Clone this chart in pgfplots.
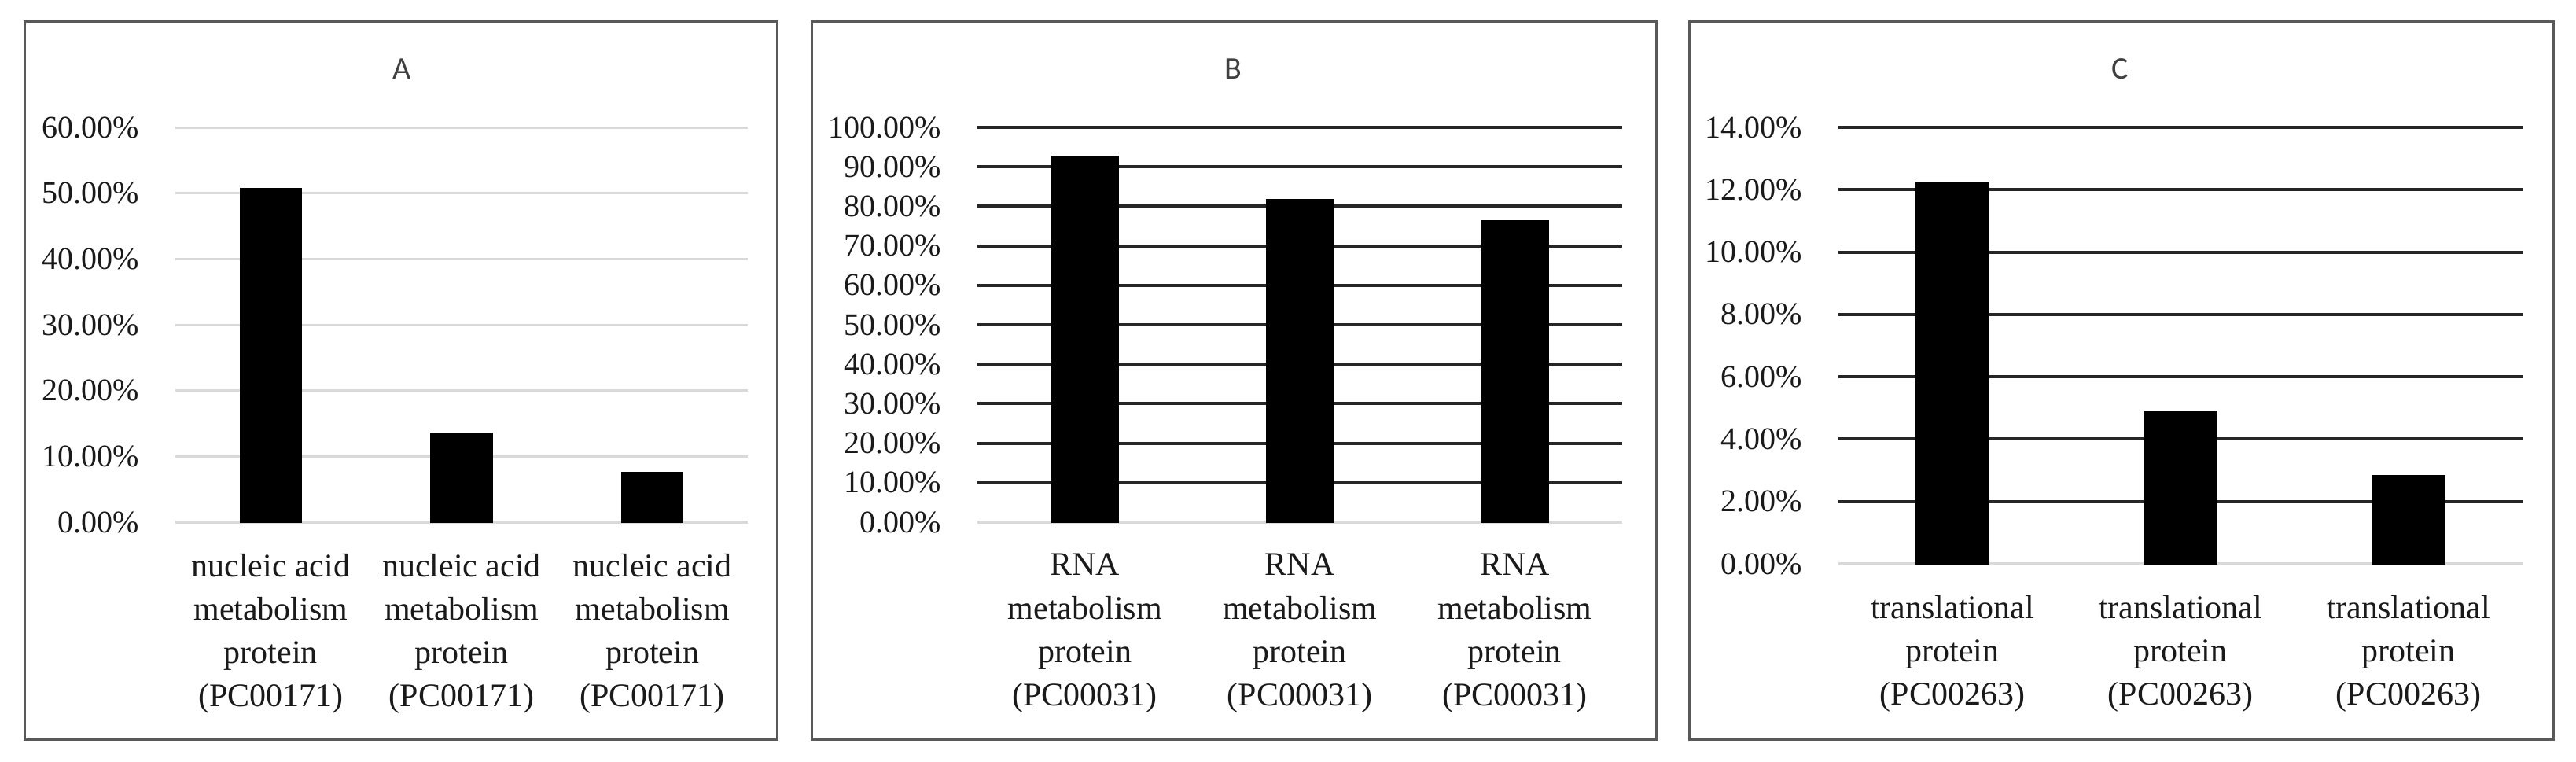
\documentclass[border=0pt]{standalone}
\usepackage{fontspec}
\setmainfont{Liberation Serif}
\newfontfamily\titlefont{Carlito}
\usepackage{pgfplots}
\pgfplotsset{compat=1.18}
\definecolor{bordergray}{HTML}{595959}
\definecolor{lightgrid}{HTML}{D9D9D9}
\definecolor{darkgrid}{HTML}{262626}
\definecolor{titlegray}{HTML}{404040}
\definecolor{ticktext}{HTML}{1A1A1A}

\pgfplotsset{
  panel/.style={
    scale only axis,
    anchor=south west,
    xmin=-0.5, xmax=2.5,
    enlarge x limits=false,
    enlarge y limits=false,
    ymin=0,
    xtick={0,1,2},
    major tick length=0pt,
    axis x line=bottom,
    axis y line=left,
    x axis line style={-, draw=lightgrid, line width=0.9pt},
    y axis line style={draw=none},
    ymajorgrids,
    yticklabel style={font=\fontsize{10}{12}\selectfont, text=ticktext, xshift=-8pt},
    xticklabel style={font=\fontsize{10.5}{13.8}\selectfont, text=ticktext, align=center, yshift=-6.5pt},
    bar width=0.32,
    extra y ticks={0},
    extra y tick style={grid=none},
  },
  barstyle/.style={ybar, fill=black, draw=black},
}

\pgfplotstableread{
x y
0 50.7
1 13.5
2 7.6
}\dataA
\pgfplotstableread{
x y
0 92.6
1 81.8
2 76.3
}\dataB
\pgfplotstableread{
x y
0 12.24
1 4.88
2 2.83
}\dataC

\begin{document}
\begin{tikzpicture}
\useasboundingbox (0,0) rectangle (819pt,242pt);
% panel borders
\draw[bordergray, line width=0.75pt] (7.75pt,7pt) rectangle (247pt,235.25pt);
\draw[bordergray, line width=0.75pt] (258pt,7pt) rectangle (526.5pt,235.25pt);
\draw[bordergray, line width=0.75pt] (537pt,7pt) rectangle (811.75pt,235.25pt);
% titles
\node[titlegray, font=\titlefont\fontsize{10}{12}\selectfont] at (127.75pt,220pt) {A};
\node[titlegray, font=\titlefont\fontsize{10}{12}\selectfont] at (392pt,220pt) {B};
\node[titlegray, font=\titlefont\fontsize{10}{12}\selectfont] at (674pt,220pt) {C};

% Panel A
\begin{axis}[panel,
  at={(55.75pt,76pt)}, width=182pt, height=125.5pt,
  ymax=60,
  ytick={10,20,30,40,50,60},
  yticklabels={10.00\%,20.00\%,30.00\%,40.00\%,50.00\%,60.00\%},
  extra y tick labels={0.00\%},
  grid style={lightgrid, line width=0.75pt},
  xticklabels={{nucleic acid\\metabolism\\protein\\(PC00171)},{nucleic acid\\metabolism\\protein\\(PC00171)},{nucleic acid\\metabolism\\protein\\(PC00171)}},
]
\addplot[barstyle] table[x=x,y=y] {\dataA};
\end{axis}

% Panel B
\begin{axis}[panel,
  at={(310.75pt,76pt)}, width=205pt, height=125.5pt,
  ymax=100,
  ytick={10,20,30,40,50,60,70,80,90,100},
  yticklabels={10.00\%,20.00\%,30.00\%,40.00\%,50.00\%,60.00\%,70.00\%,80.00\%,90.00\%,100.00\%},
  extra y tick labels={0.00\%},
  grid style={darkgrid, line width=1pt},
  bar width=0.31,
  xticklabels={{RNA\\metabolism\\protein\\(PC00031)},{RNA\\metabolism\\protein\\(PC00031)},{RNA\\metabolism\\protein\\(PC00031)}},
]
\addplot[barstyle] table[x=x,y=y] {\dataB};
\end{axis}

% Panel C
\begin{axis}[panel,
  at={(584.5pt,62.75pt)}, width=217.5pt, height=138.75pt,
  ymax=14,
  ytick={2,4,6,8,10,12,14},
  yticklabels={2.00\%,4.00\%,6.00\%,8.00\%,10.00\%,12.00\%,14.00\%},
  extra y tick labels={0.00\%},
  grid style={darkgrid, line width=1pt},
  xticklabels={{translational\\protein\\(PC00263)},{translational\\protein\\(PC00263)},{translational\\protein\\(PC00263)}},
]
\addplot[barstyle] table[x=x,y=y] {\dataC};
\end{axis}
\end{tikzpicture}
\end{document}
